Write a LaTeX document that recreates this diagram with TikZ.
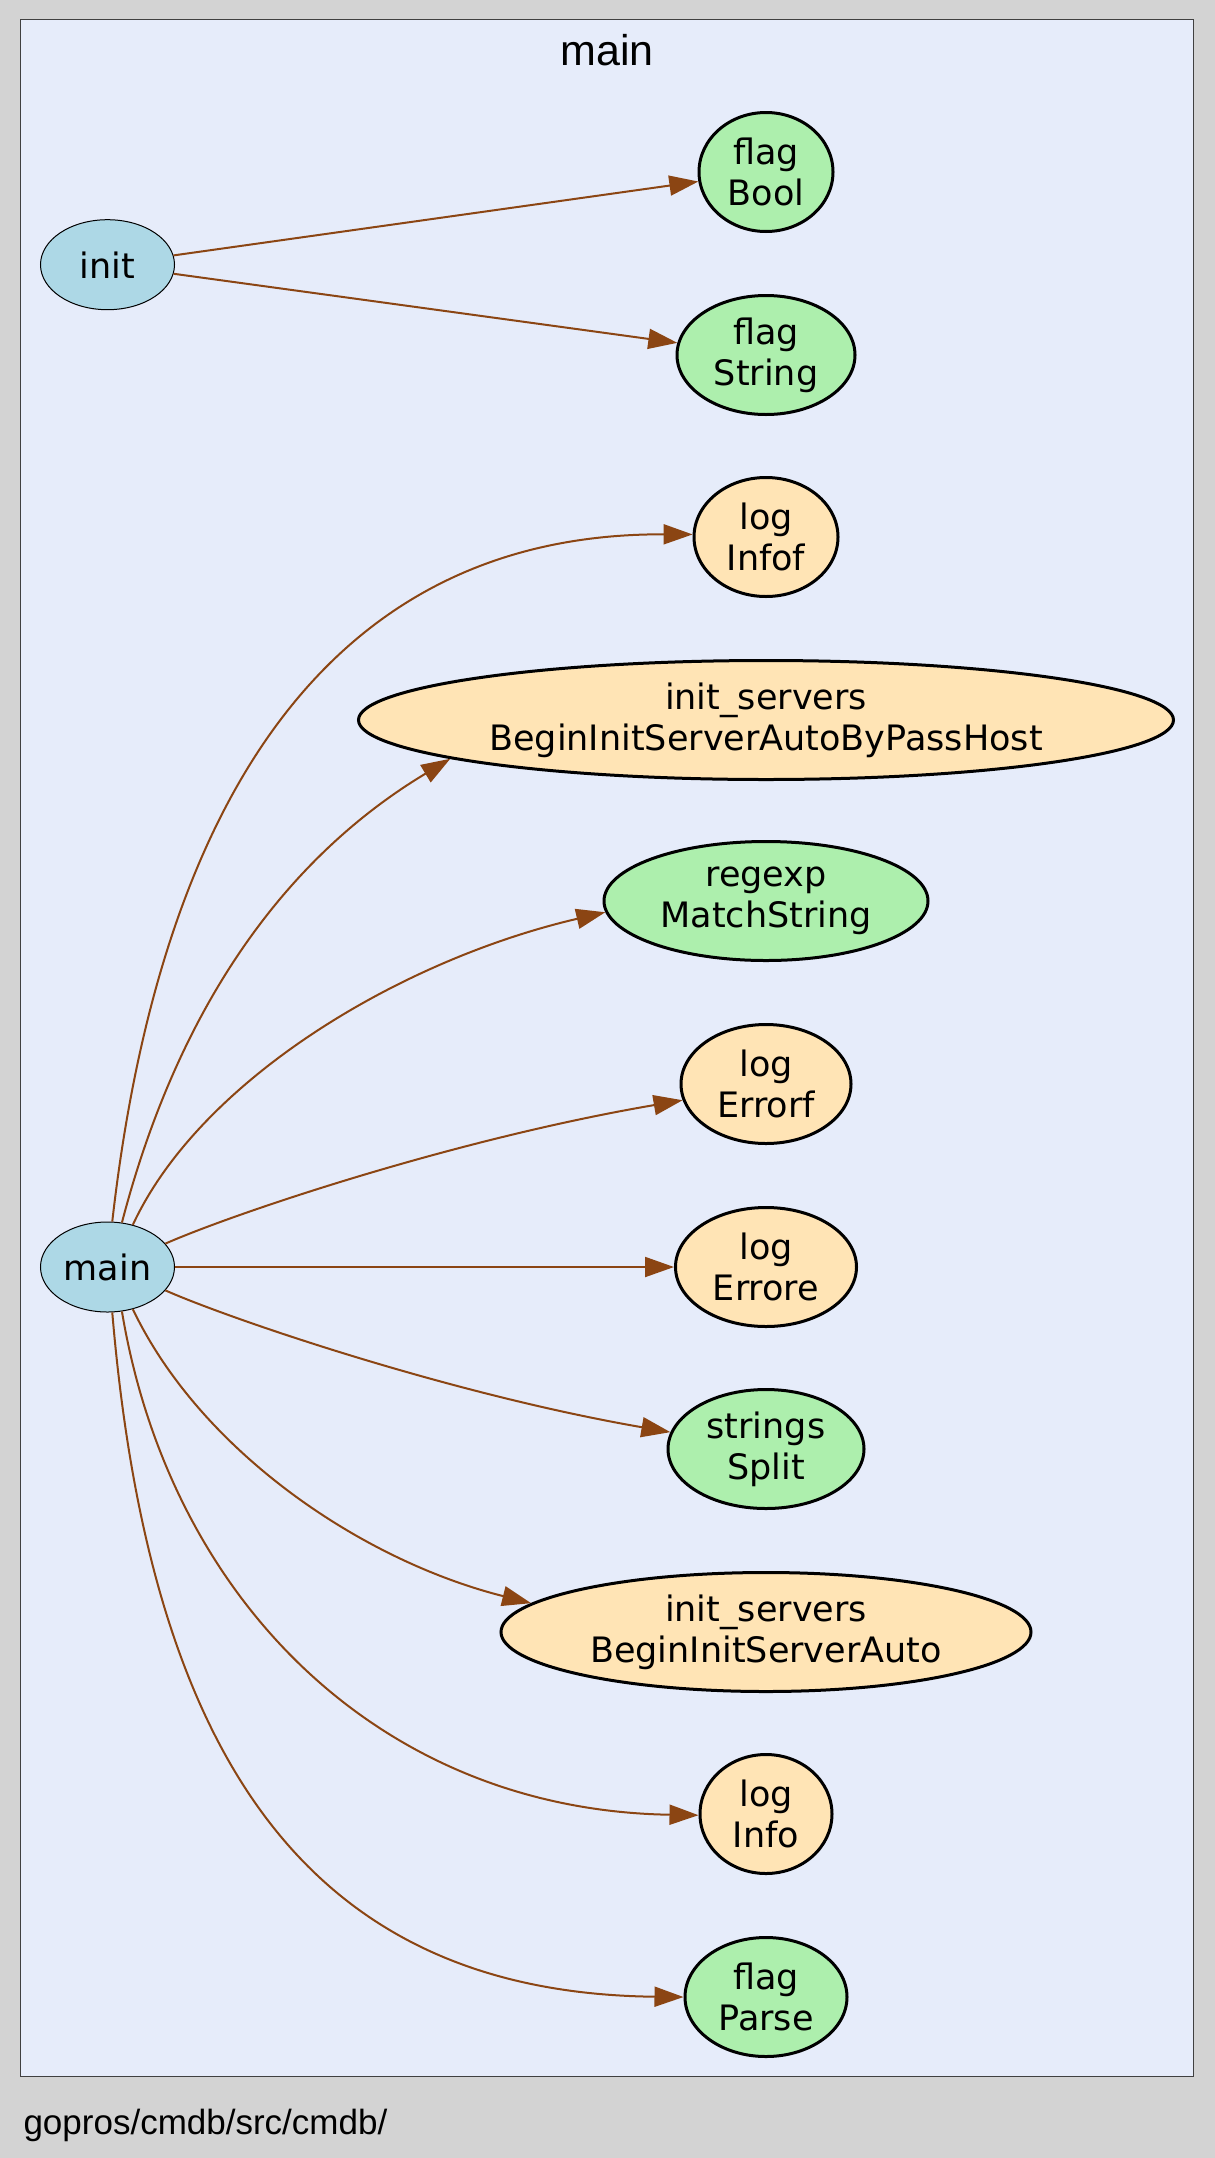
\documentclass[tikz,border=0pt]{standalone}
\usepackage{fontspec}
\usetikzlibrary{arrows.meta, shapes.geometric}
\newfontfamily\gvnodefont{DejaVu Sans}
\newfontfamily\gvlabelfont{Liberation Sans}
\definecolor{gvbg}{HTML}{D3D3D3}
\definecolor{gvcluster}{HTML}{E6ECFA}
\definecolor{gvfocus}{HTML}{ADD8E6}
\definecolor{gvstd}{HTML}{ADEFAD}
\definecolor{gvext}{HTML}{FFE4B5}
\definecolor{gvedge}{HTML}{8B4513}

\begin{document}
\begin{tikzpicture}[
  x=1pt, y=-1pt,
  fnode/.style={ellipse, draw=black, line width=3pt, inner sep=2pt, align=center,
    minimum height=119pt, font=\gvnodefont\fontsize{35}{41}\selectfont},
  focusnode/.style={fnode, fill=gvfocus, line width=1pt, minimum width=134pt, minimum height=90pt},
  stdnode/.style={fnode, fill=gvstd},
  extnode/.style={fnode, fill=gvext},
  call/.style={draw=gvedge, line width=2pt, -{Triangle[length=29pt,width=20pt]}},
]

% background and package cluster
\fill[gvbg] (0,0) rectangle (1215,2158);
\filldraw[fill=gvcluster, draw=black!75, line width=1.2pt] (20.6,19.3) rectangle (1193.6,2076.5);
\node[font=\gvlabelfont\fontsize{43}{50}\selectfont, anchor=base] (title) at (607,65) {main};
\node[font=\gvlabelfont\fontsize{35}{42}\selectfont, anchor=base west] (path) at (20,2134) {gopros/cmdb/src/cmdb/};

% callers
\node[focusnode] (init) at (107.5,264.7) {init};
\node[focusnode] (main) at (107.5,1267) {main};

% callees
\node[stdnode, minimum width=134pt] (flagbool) at (766,172) {flag\\Bool};
\node[stdnode, minimum width=178pt] (flagstring) at (766,355) {flag\\String};
\node[extnode, minimum width=144pt] (loginfof) at (766,537) {log\\Infof};
\node[extnode, minimum width=815pt] (bypasshost) at (766,720) {init\_servers\\BeginInitServerAutoByPassHost};
\node[stdnode, minimum width=324pt] (matchstring) at (766,901) {regexp\\MatchString};
\node[extnode, minimum width=170pt] (logerrorf) at (766,1084) {log\\Errorf};
\node[extnode, minimum width=181pt] (logerrore) at (766,1267) {log\\Errore};
\node[stdnode, minimum width=196pt] (split) at (766,1449) {strings\\Split};
\node[extnode, minimum width=530pt] (serverauto) at (766,1632) {init\_servers\\BeginInitServerAuto};
\node[extnode, minimum width=132pt] (loginfo) at (766,1814) {log\\Info};
\node[stdnode, minimum width=162pt] (flagparse) at (766,1997) {flag\\Parse};

% init calls
\draw[call] (init) -- (flagbool);
\draw[call] (init) -- (flagstring);

% main calls
\draw[call] (main.84) .. controls (160,800) and (330,533) .. (loginfof.178);
\draw[call] (main.72) .. controls (180,1000) and (290,855) .. (bypasshost.187);
\draw[call] (main.59) .. controls (200,1080) and (400,960) .. (matchstring.184);
\draw[call] (main.22) .. controls (230,1215) and (450,1140) .. (logerrorf.191);
\draw[call] (main) -- (logerrore);
\draw[call] (main.338) .. controls (230,1319) and (450,1394) .. (split.170);
\draw[call] (main.301) .. controls (200,1450) and (360,1560) .. (serverauto.173);
\draw[call] (main.288) .. controls (170,1600) and (380,1810) .. (loginfo.181);
\draw[call] (main.276) .. controls (150,1760) and (310,1993) .. (flagparse.180);

\end{tikzpicture}
\end{document}
